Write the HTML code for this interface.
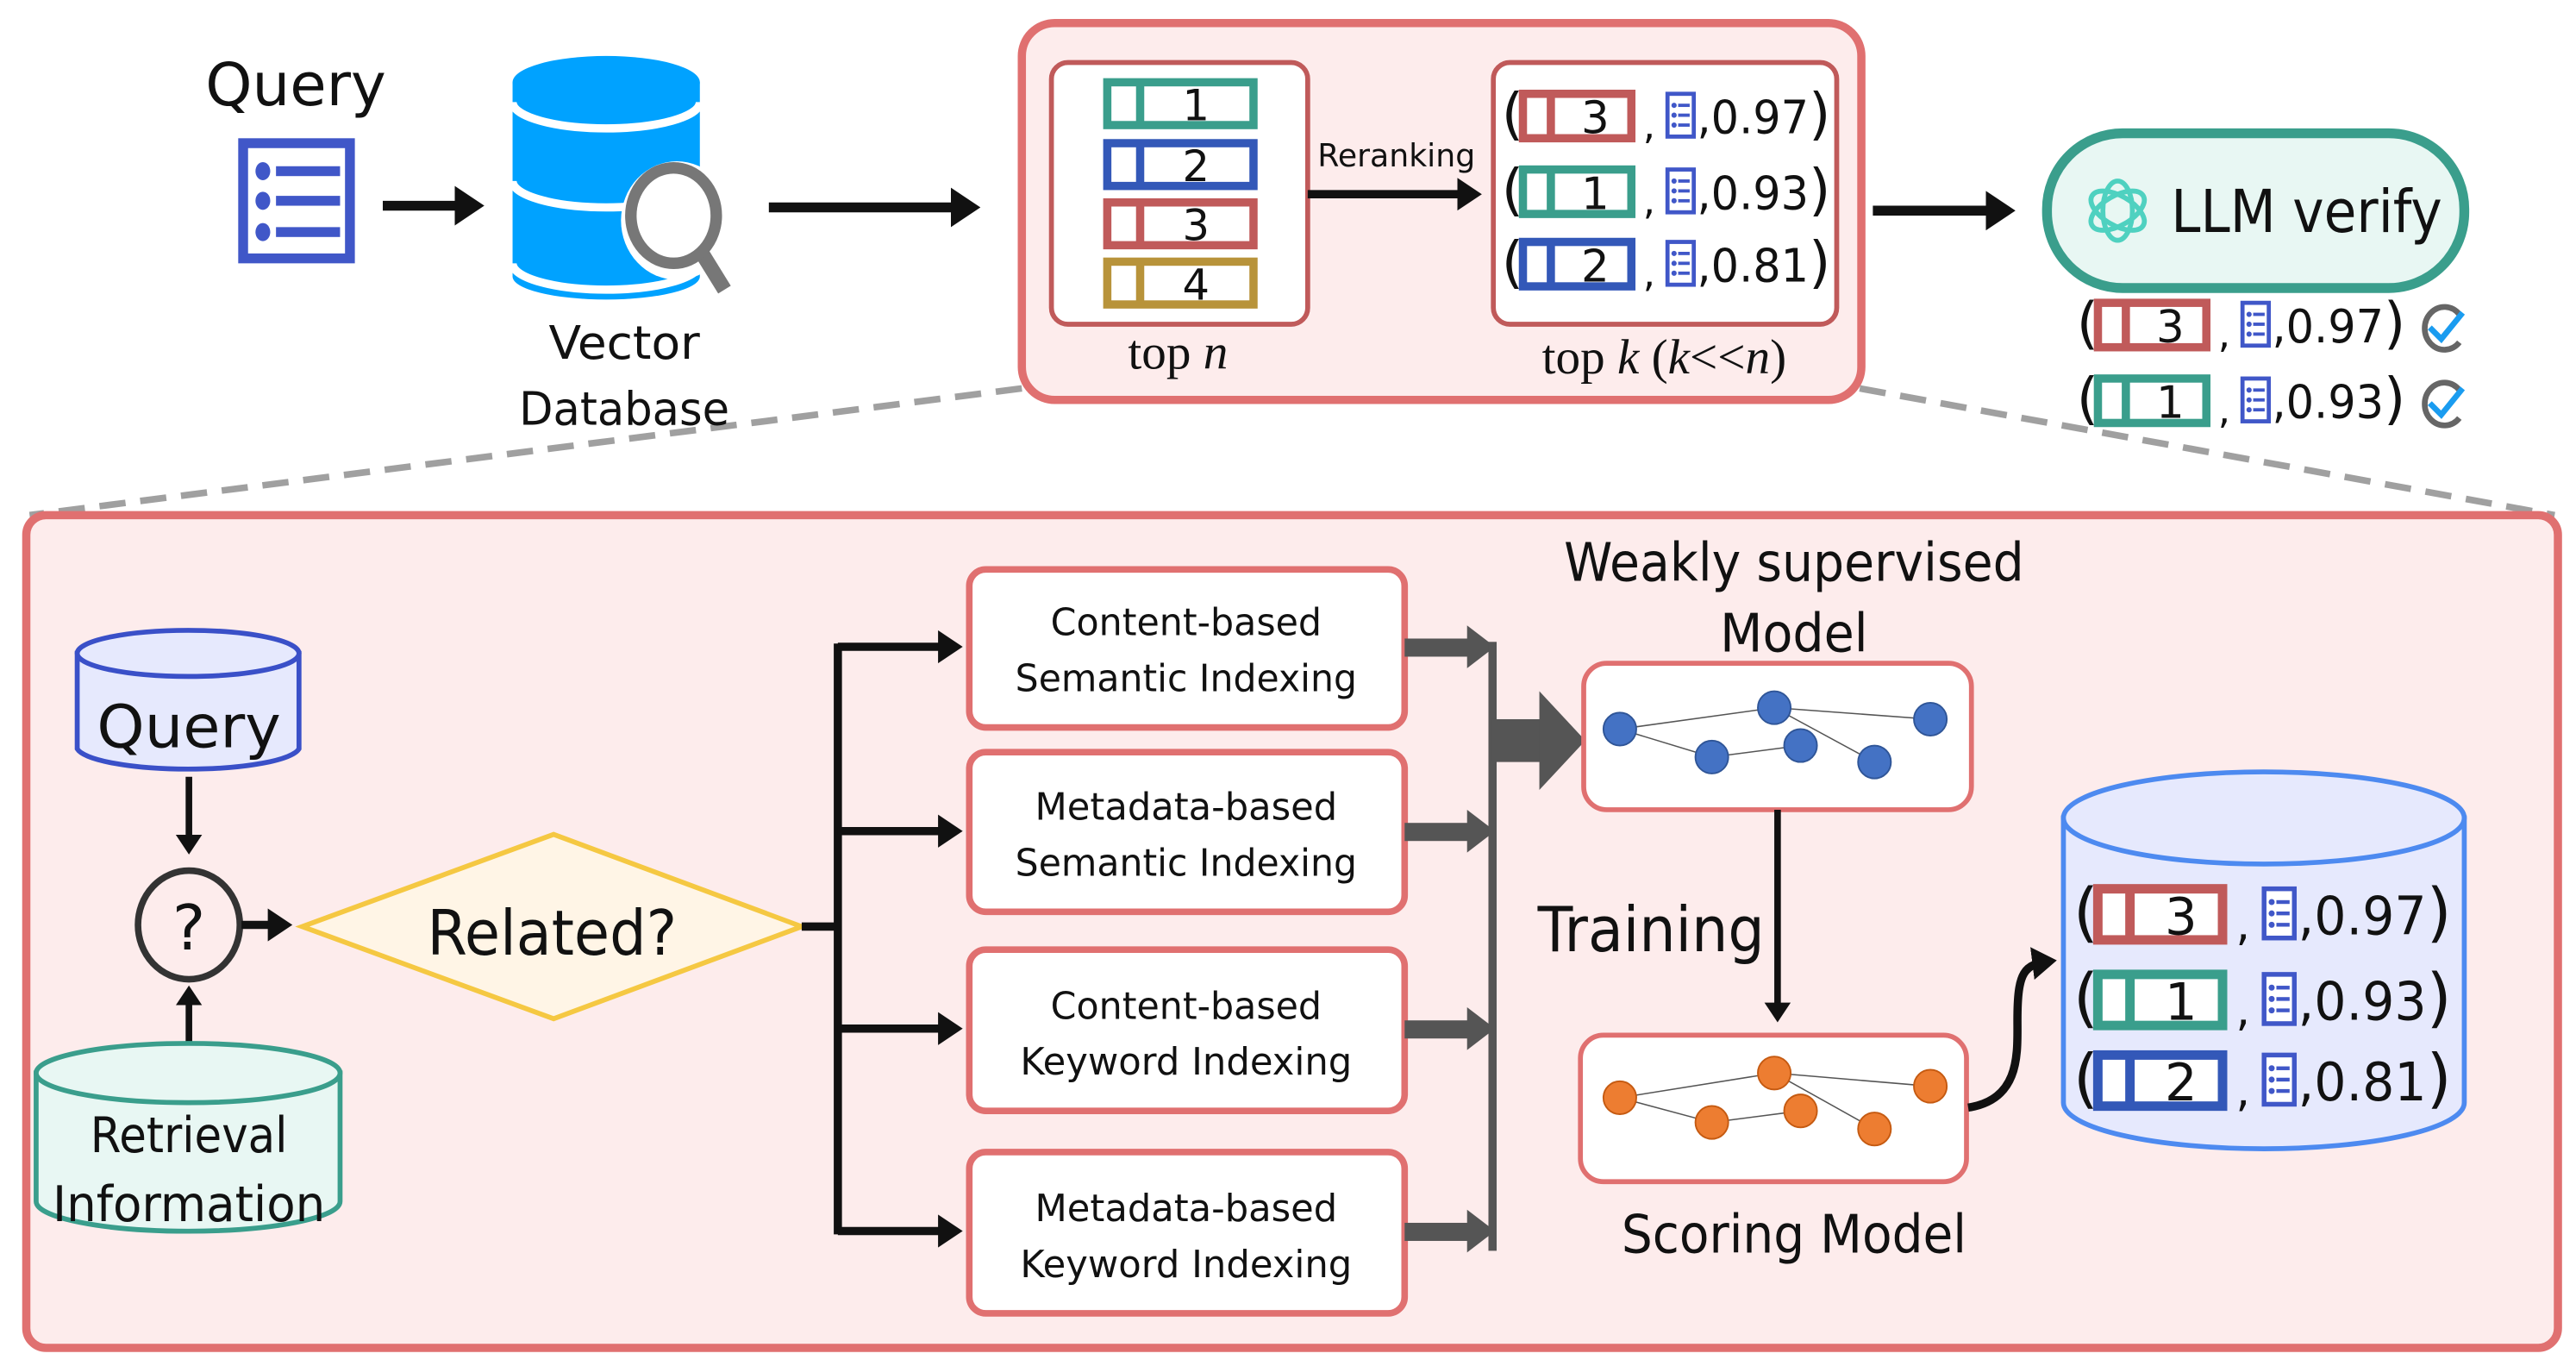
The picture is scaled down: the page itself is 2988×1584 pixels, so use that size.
<!DOCTYPE html>
<html><head><meta charset="utf-8"><style>
html,body{margin:0;padding:0;background:#fff;}
svg{display:block;}
text{font-family:"DejaVu Sans","Liberation Sans",sans-serif;fill:#111;}
.s{font-family:"Liberation Serif",serif;}
</style></head><body>
<svg width="2988" height="1584" viewBox="0 0 1568 830" preserveAspectRatio="none" xmlns="http://www.w3.org/2000/svg">
<defs>
<marker id="ah" markerWidth="4" markerHeight="4" refX="2.2" refY="2" orient="auto" markerUnits="strokeWidth"><path d="M0,0 L3,2 L0,4 Z" fill="#111"/></marker>
<g id="doc"><rect x="0" y="-13" width="16" height="26" fill="#fff" stroke="#4057c8" stroke-width="2.5"/><g fill="#4057c8"><circle cx="4" cy="-6" r="1.6"/><circle cx="4" cy="0" r="1.6"/><circle cx="4" cy="6" r="1.6"/><rect x="6.5" y="-7" width="7" height="2"/><rect x="6.5" y="-1" width="7" height="2"/><rect x="6.5" y="5" width="7" height="2"/></g></g>
</defs>

<line x1="622" y1="236" x2="18" y2="313" stroke="#a0a0a0" stroke-width="4" stroke-dasharray="16,9"/>
<line x1="1132" y1="236" x2="1555" y2="313" stroke="#a0a0a0" stroke-width="4" stroke-dasharray="16,9"/>

<text x="180" y="64" font-size="36" text-anchor="middle" textLength="110" lengthAdjust="spacingAndGlyphs">Query</text>
<rect x="148" y="87" width="65" height="70" fill="#fff" stroke="#4057c8" stroke-width="6"/>
<g fill="#4057c8"><ellipse cx="160" cy="104" rx="4.5" ry="5.5"/><ellipse cx="160" cy="122" rx="4.5" ry="5.5"/><ellipse cx="160" cy="141" rx="4.5" ry="5.5"/><rect x="168" y="101" width="39" height="6"/><rect x="168" y="119" width="39" height="6"/><rect x="168" y="138" width="39" height="6"/></g>
<line x1="233" y1="125" x2="290" y2="125" stroke="#111" stroke-width="6" marker-end="url(#ah)"/>

<path d="M312,50 L312,168 A57,14 0 0 0 426,168 L426,50 Z" fill="#00a2ff"/>
<ellipse cx="369" cy="50" rx="57" ry="16" fill="#00a2ff"/>
<path d="M312,62 A57,16 0 0 0 426,62" fill="none" stroke="#fff" stroke-width="5"/>
<path d="M312,110 A57,16 0 0 0 426,110" fill="none" stroke="#fff" stroke-width="5"/>
<path d="M312,160 A57,16 0 0 0 426,160" fill="none" stroke="#fff" stroke-width="5"/>
<ellipse cx="412" cy="134" rx="34" ry="36" fill="#fff"/>
<line x1="428" y1="155" x2="441" y2="176" stroke="#777" stroke-width="9"/>
<ellipse cx="410" cy="131" rx="26" ry="29" fill="#fff" stroke="#777" stroke-width="7"/>
<text x="380" y="218" font-size="28" text-anchor="middle" textLength="92" lengthAdjust="spacingAndGlyphs">Vector</text>
<text x="380" y="258" font-size="28" text-anchor="middle" textLength="128" lengthAdjust="spacingAndGlyphs">Database</text>
<line x1="468" y1="126" x2="592" y2="126" stroke="#111" stroke-width="6" marker-end="url(#ah)"/>

<rect x="622" y="14" width="511" height="229" rx="20" fill="#fdecec" stroke="#e07070" stroke-width="5"/>
<rect x="640" y="38" width="156" height="159" rx="10" fill="#fff" stroke="#c05a5a" stroke-width="3"/>
<g stroke-width="5" fill="#fff">
<rect x="674" y="50" width="89" height="26" stroke="#3a9e8c"/><line x1="694" y1="50" x2="694" y2="76" stroke="#3a9e8c"/>
<rect x="674" y="87" width="89" height="26" stroke="#3358b8"/><line x1="694" y1="87" x2="694" y2="113" stroke="#3358b8"/>
<rect x="674" y="123" width="89" height="26" stroke="#c05a5a"/><line x1="694" y1="123" x2="694" y2="149" stroke="#c05a5a"/>
<rect x="674" y="159" width="89" height="26" stroke="#b8933a"/><line x1="694" y1="159" x2="694" y2="185" stroke="#b8933a"/>
</g>
<g font-size="26" text-anchor="middle"><text x="728" y="73">1</text><text x="728" y="110">2</text><text x="728" y="146">3</text><text x="728" y="182">4</text></g>
<text x="717" y="224" font-size="30" class="s" text-anchor="middle">top <tspan font-style="italic">n</tspan></text>
<text x="850" y="101" font-size="19" text-anchor="middle" textLength="96" lengthAdjust="spacingAndGlyphs">Reranking</text>
<line x1="796" y1="118" x2="898" y2="118" stroke="#111" stroke-width="5" marker-end="url(#ah)"/>
<rect x="909" y="38" width="209" height="159" rx="10" fill="#fff" stroke="#c05a5a" stroke-width="3"/>
<text x="1013" y="227" font-size="30" class="s" text-anchor="middle">top <tspan font-style="italic">k</tspan> (<tspan font-style="italic">k</tspan>&lt;&lt;<tspan font-style="italic">n</tspan>)</text>

<g transform="translate(914,70)">
<text x="0" y="11" font-size="34">(</text>
<rect x="13" y="-13" width="66" height="27" fill="#fff" stroke="#c05a5a" stroke-width="5"/><line x1="30" y1="-13" x2="30" y2="14" stroke="#c05a5a" stroke-width="5"/>
<text x="57" y="11" font-size="27" text-anchor="middle">3</text>
<text x="86" y="14" font-size="24">,</text><use href="#doc" x="101" y="0"/>
<text x="119" y="11" font-size="28" textLength="68" lengthAdjust="spacingAndGlyphs">,0.97</text>
<text x="187" y="11" font-size="34">)</text></g>
<g transform="translate(914,116)">
<text x="0" y="11" font-size="34">(</text>
<rect x="13" y="-13" width="66" height="27" fill="#fff" stroke="#3a9e8c" stroke-width="5"/><line x1="30" y1="-13" x2="30" y2="14" stroke="#3a9e8c" stroke-width="5"/>
<text x="57" y="11" font-size="27" text-anchor="middle">1</text>
<text x="86" y="14" font-size="24">,</text><use href="#doc" x="101" y="0"/>
<text x="119" y="11" font-size="28" textLength="68" lengthAdjust="spacingAndGlyphs">,0.93</text>
<text x="187" y="11" font-size="34">)</text></g>
<g transform="translate(914,160)">
<text x="0" y="11" font-size="34">(</text>
<rect x="13" y="-13" width="66" height="27" fill="#fff" stroke="#3358b8" stroke-width="5"/><line x1="30" y1="-13" x2="30" y2="14" stroke="#3358b8" stroke-width="5"/>
<text x="57" y="11" font-size="27" text-anchor="middle">2</text>
<text x="86" y="14" font-size="24">,</text><use href="#doc" x="101" y="0"/>
<text x="119" y="11" font-size="28" textLength="68" lengthAdjust="spacingAndGlyphs">,0.81</text>
<text x="187" y="11" font-size="34">)</text></g>

<line x1="1140" y1="128" x2="1222" y2="128" stroke="#111" stroke-width="6" marker-end="url(#ah)"/>
<rect x="1246" y="81" width="254" height="94" rx="46" fill="#e8f7f3" stroke="#3a9e8c" stroke-width="6"/>
<g fill="none" stroke="#4fd1c0" stroke-width="3"><ellipse cx="1289" cy="128" rx="9" ry="18"/><ellipse cx="1289" cy="128" rx="9" ry="18" transform="rotate(60 1289 128)"/><ellipse cx="1289" cy="128" rx="9" ry="18" transform="rotate(-60 1289 128)"/></g>
<text x="1404" y="141" font-size="36" text-anchor="middle" textLength="165" lengthAdjust="spacingAndGlyphs">LLM verify</text>

<g transform="translate(1264,197)">
<text x="0" y="11" font-size="34">(</text>
<rect x="13" y="-13" width="66" height="27" fill="#fff" stroke="#c05a5a" stroke-width="5"/><line x1="30" y1="-13" x2="30" y2="14" stroke="#c05a5a" stroke-width="5"/>
<text x="57" y="11" font-size="27" text-anchor="middle">3</text>
<text x="86" y="14" font-size="24">,</text><use href="#doc" x="101" y="0"/>
<text x="119" y="11" font-size="28" textLength="68" lengthAdjust="spacingAndGlyphs">,0.97</text>
<text x="187" y="11" font-size="34">)</text></g>
<g transform="translate(1264,243)">
<text x="0" y="11" font-size="34">(</text>
<rect x="13" y="-13" width="66" height="27" fill="#fff" stroke="#3a9e8c" stroke-width="5"/><line x1="30" y1="-13" x2="30" y2="14" stroke="#3a9e8c" stroke-width="5"/>
<text x="57" y="11" font-size="27" text-anchor="middle">1</text>
<text x="86" y="14" font-size="24">,</text><use href="#doc" x="101" y="0"/>
<text x="119" y="11" font-size="28" textLength="68" lengthAdjust="spacingAndGlyphs">,0.93</text>
<text x="187" y="11" font-size="34">)</text></g>
<g fill="none" stroke-width="3.5"><path d="M1497,191 A12,13 0 1 0 1497,208" stroke="#666"/><path d="M1479,199 L1486,206 L1499,190" stroke="#1a9cf0"/>
<path d="M1497,237 A12,13 0 1 0 1497,254" stroke="#666"/><path d="M1479,245 L1486,252 L1499,236" stroke="#1a9cf0"/></g>

<rect x="16" y="313" width="1541" height="506" rx="12" fill="#fdecec" stroke="#e07070" stroke-width="5"/>

<path d="M47,397 L47,455 A68,14 0 0 0 182,455 L182,397 Z" fill="#e6e9fd" stroke="#3a50c8" stroke-width="3"/>
<ellipse cx="114.5" cy="397" rx="67.5" ry="14" fill="#e6e9fd" stroke="#3a50c8" stroke-width="3"/>
<text x="115" y="454" font-size="36" text-anchor="middle" textLength="112" lengthAdjust="spacingAndGlyphs">Query</text>
<line x1="115" y1="472" x2="115" y2="516" stroke="#111" stroke-width="4" marker-end="url(#ah)"/>
<ellipse cx="115" cy="562" rx="31" ry="33" fill="#fdecec" stroke="#333" stroke-width="4"/>
<text x="115" y="577" font-size="38" text-anchor="middle">?</text>
<line x1="115" y1="637" x2="115" y2="602" stroke="#111" stroke-width="4" marker-end="url(#ah)"/>
<line x1="147" y1="562" x2="174" y2="562" stroke="#111" stroke-width="5" marker-end="url(#ah)"/>
<path d="M22,652 L22,730 A92,18 0 0 0 207,730 L207,652 Z" fill="#e8f7f3" stroke="#3a9e8c" stroke-width="3"/>
<ellipse cx="114.5" cy="652" rx="92.5" ry="18" fill="#e8f7f3" stroke="#3a9e8c" stroke-width="3"/>
<text x="115" y="700" font-size="30" text-anchor="middle" textLength="120" lengthAdjust="spacingAndGlyphs">Retrieval</text>
<text x="115" y="742" font-size="30" text-anchor="middle" textLength="166" lengthAdjust="spacingAndGlyphs">Information</text>

<polygon points="184,563 337,507 488,563 337,619" fill="#fff5e6" stroke="#f5c842" stroke-width="3"/>
<text x="336" y="580" font-size="38" text-anchor="middle" textLength="152" lengthAdjust="spacingAndGlyphs">Related?</text>
<path d="M488,563 L510,563 M510,391 L510,750" stroke="#111" stroke-width="5" fill="none"/>
<g stroke="#111" stroke-width="5" marker-end="url(#ah)">
<line x1="510" y1="393" x2="582" y2="393"/><line x1="510" y1="505" x2="582" y2="505"/><line x1="510" y1="625" x2="582" y2="625"/><line x1="510" y1="748" x2="582" y2="748"/></g>

<g fill="#fff" stroke="#e07070" stroke-width="4">
<rect x="590" y="346" width="265" height="96" rx="10"/><rect x="590" y="457" width="265" height="97" rx="10"/>
<rect x="590" y="577" width="265" height="98" rx="10"/><rect x="590" y="700" width="265" height="98" rx="10"/></g>
<g font-size="23" text-anchor="middle">
<text x="722" y="386" textLength="165" lengthAdjust="spacingAndGlyphs">Content-based</text><text x="722" y="420" textLength="208" lengthAdjust="spacingAndGlyphs">Semantic Indexing</text>
<text x="722" y="498" textLength="184" lengthAdjust="spacingAndGlyphs">Metadata-based</text><text x="722" y="532" textLength="208" lengthAdjust="spacingAndGlyphs">Semantic Indexing</text>
<text x="722" y="619" textLength="165" lengthAdjust="spacingAndGlyphs">Content-based</text><text x="722" y="653" textLength="202" lengthAdjust="spacingAndGlyphs">Keyword Indexing</text>
<text x="722" y="742" textLength="184" lengthAdjust="spacingAndGlyphs">Metadata-based</text><text x="722" y="776" textLength="202" lengthAdjust="spacingAndGlyphs">Keyword Indexing</text></g>

<g fill="#555">
<rect x="855" y="388" width="40" height="11"/><polygon points="893,380 910,393 893,406"/>
<rect x="855" y="500" width="40" height="11"/><polygon points="893,492 910,505 893,518"/>
<rect x="855" y="620" width="40" height="11"/><polygon points="893,612 910,625 893,638"/>
<rect x="855" y="743" width="40" height="11"/><polygon points="893,735 910,748 893,761"/>
<rect x="906" y="390" width="5" height="370"/>
<rect x="908" y="437" width="33" height="26"/><polygon points="937,420 965,450 937,480"/>
</g>

<text x="1092" y="353" font-size="32" text-anchor="middle" textLength="280" lengthAdjust="spacingAndGlyphs">Weakly supervised</text>
<text x="1092" y="396" font-size="32" text-anchor="middle" textLength="90" lengthAdjust="spacingAndGlyphs">Model</text>
<rect x="964" y="403" width="236" height="89" rx="14" fill="#fff" stroke="#e07070" stroke-width="3"/>
<g stroke="#555" stroke-width="0.8"><line x1="986" y1="443" x2="1080" y2="430"/><line x1="986" y1="443" x2="1042" y2="460"/><line x1="1042" y1="460" x2="1096" y2="453"/><line x1="1080" y1="430" x2="1141" y2="463"/><line x1="1080" y1="430" x2="1175" y2="437"/></g>
<g fill="#4472c4" stroke="#2f5597" stroke-width="1"><circle cx="986" cy="443" r="10"/><circle cx="1080" cy="430" r="10"/><circle cx="1042" cy="460" r="10"/><circle cx="1096" cy="453" r="10"/><circle cx="1141" cy="463" r="10"/><circle cx="1175" cy="437" r="10"/></g>
<line x1="1082" y1="492" x2="1082" y2="618" stroke="#111" stroke-width="4" marker-end="url(#ah)"/>
<text x="1005" y="578" font-size="38" text-anchor="middle" textLength="138" lengthAdjust="spacingAndGlyphs">Training</text>
<rect x="962" y="629" width="235" height="89" rx="14" fill="#fff" stroke="#e07070" stroke-width="3"/>
<g stroke="#555" stroke-width="0.8"><line x1="986" y1="667" x2="1080" y2="652"/><line x1="986" y1="667" x2="1042" y2="682"/><line x1="1042" y1="682" x2="1096" y2="675"/><line x1="1080" y1="652" x2="1141" y2="686"/><line x1="1080" y1="652" x2="1175" y2="660"/></g>
<g fill="#ed7d31" stroke="#c55a11" stroke-width="1"><circle cx="986" cy="667" r="10"/><circle cx="1080" cy="652" r="10"/><circle cx="1042" cy="682" r="10"/><circle cx="1096" cy="675" r="10"/><circle cx="1141" cy="686" r="10"/><circle cx="1175" cy="660" r="10"/></g>
<text x="1092" y="761" font-size="32" text-anchor="middle" textLength="210" lengthAdjust="spacingAndGlyphs">Scoring Model</text>
<path d="M1198,673 C1230,668 1228,640 1228,620 C1228,590 1232,586 1248,584" fill="none" stroke="#111" stroke-width="5" marker-end="url(#ah)"/>

<path d="M1256,497 L1256,670 A122,28 0 0 0 1500,670 L1500,497 Z" fill="#e6e9fd" stroke="#4d8af0" stroke-width="3"/>
<ellipse cx="1378" cy="497" rx="122" ry="28" fill="#e6e9fd" stroke="#4d8af0" stroke-width="3"/>
<g transform="translate(1262,555) scale(1.15)">
<text x="0" y="11" font-size="34">(</text>
<rect x="13" y="-13" width="66" height="27" fill="#fff" stroke="#c05a5a" stroke-width="5"/><line x1="30" y1="-13" x2="30" y2="14" stroke="#c05a5a" stroke-width="5"/>
<text x="57" y="11" font-size="27" text-anchor="middle">3</text>
<text x="86" y="14" font-size="24">,</text><use href="#doc" x="101" y="0"/>
<text x="119" y="11" font-size="28" textLength="68" lengthAdjust="spacingAndGlyphs">,0.97</text>
<text x="187" y="11" font-size="34">)</text></g>
<g transform="translate(1262,607) scale(1.15)">
<text x="0" y="11" font-size="34">(</text>
<rect x="13" y="-13" width="66" height="27" fill="#fff" stroke="#3a9e8c" stroke-width="5"/><line x1="30" y1="-13" x2="30" y2="14" stroke="#3a9e8c" stroke-width="5"/>
<text x="57" y="11" font-size="27" text-anchor="middle">1</text>
<text x="86" y="14" font-size="24">,</text><use href="#doc" x="101" y="0"/>
<text x="119" y="11" font-size="28" textLength="68" lengthAdjust="spacingAndGlyphs">,0.93</text>
<text x="187" y="11" font-size="34">)</text></g>
<g transform="translate(1262,656) scale(1.15)">
<text x="0" y="11" font-size="34">(</text>
<rect x="13" y="-13" width="66" height="27" fill="#fff" stroke="#3358b8" stroke-width="5"/><line x1="30" y1="-13" x2="30" y2="14" stroke="#3358b8" stroke-width="5"/>
<text x="57" y="11" font-size="27" text-anchor="middle">2</text>
<text x="86" y="14" font-size="24">,</text><use href="#doc" x="101" y="0"/>
<text x="119" y="11" font-size="28" textLength="68" lengthAdjust="spacingAndGlyphs">,0.81</text>
<text x="187" y="11" font-size="34">)</text></g>
</svg>
</body></html>
